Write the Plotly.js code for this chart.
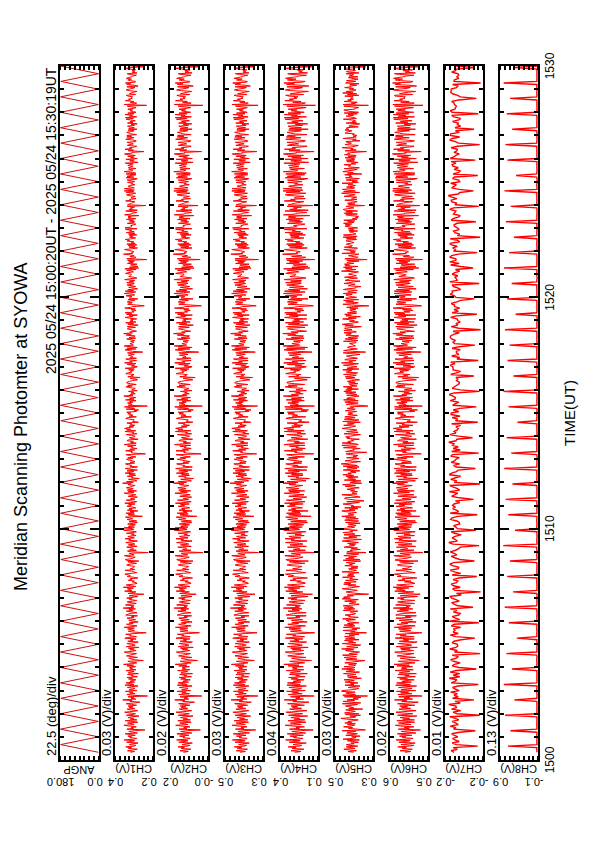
<!DOCTYPE html>
<html><head><meta charset="utf-8">
<script src="https://cdn.plot.ly/plotly-3.0.1.min.js"></script>
<style>
html,body{margin:0;padding:0;width:595px;height:842px;overflow:hidden;background:#fff;}
#chart{position:absolute;left:0;top:0;width:842px;height:595px;transform-origin:0 0;transform:translateY(842px) rotate(-90deg);}
</style></head><body><div id="chart"></div>
<script>
// ---- data ----
const channelNames = ['ANGP','CH1(V)','CH2(V)','CH3(V)','CH4(V)','CH5(V)','CH6(V)','CH7(V)','CH8(V)'];
const scaleLabels = ['22.5 (deg)/div','0.03 (V)/div','0.02 (V)/div','0.03 (V)/div','0.04 (V)/div','0.03 (V)/div','0.02 (V)/div','0.01 (V)/div','0.13 (V)/div'];
const topLabels = ['180.0','0.4','0.2','0.5','0.4','0.5','0.6','-0.2','0.9'];
const bottomLabels = ['0.0','0.2','-0.0','0.3','0.1','0.3','0.5','-0.2','-0.1'];
const axisMax = [180, 0.42, 0.155, 0.53, 0.42, 0.53, 0.63, -0.155, 0.93];
const axisMin = [0, 0.18, -0.005, 0.29, 0.10, 0.29, 0.47, -0.235, -0.11];
const startUT = '2025-05-24 15:00:20';
const angpStepSec = 20;   // scan turning points
const fastStepSec = 2;    // CH1-CH6
const slowStepSec = 4;    // CH7-CH8

const angp_deg = [3,177,2,178,3,177,4,176,2,178, 3,177,3,178,2,177,4,176,3,177, 2,178,3,177,3,176,4,178,2,177,
3,177,3,178,2,176,4,177,3,178, 2,177,3,176,3,178,4,177,2,177, 3,178,3,176,2,177,4,178,3,177,
2,176,3,178,3,177,4,177,2,178, 3,176,3,177,2,178,4,177,3,176, 2,178,3,177,3,177,4,176,2,178];

const ch1_mV = [322,297,341,308,279,336,315,352,301,288, 329,311,274,347,318,296,362,305,283,327, 314,339,292,321,356,278,309,333,298,231,
345,303,317,286,329,364,299,312,341,276, 308,355,282,324,301,338,317,269,348,313, 291,326,359,304,277,321,343,296,330,307,
337,284,315,349,298,263,326,312,371,289, 319,302,338,215,311,345,293,328,306,354, 282,331,307,294,342,318,275,357,300,323,
350,296,326,313,287,334,309,345,278,316, 305,341,272,336,320,299,351,288,327,310, 328,290,344,303,366,311,282,319,339,241,
297,318,333,279,312,347,325,301,284,343, 361,309,288,326,299,335,270,349,314,292, 316,345,301,273,339,306,322,287,358,327,
284,328,317,352,294,223,310,336,297,319, 340,298,363,311,281,324,347,305,330,274, 309,333,290,321,344,300,316,278,352,337,
325,281,313,348,307,332,291,368,302,318, 299,354,327,286,319,343,309,283,329,312, 346,306,276,331,295,238,338,314,288,359,
313,327,342,304,367,289,321,349,307,280, 287,311,298,336,312,326,275,302,343,323, 334,358,319,283,301,315,356,293,324,306,
302,296,330,346,324,284,311,339,270,349, 355,320,306,292,337,361,299,318,332,211, 318,341,285,327,303,309,346,281,312,336,
294,305,352,314,278,333,320,357,297,325, 339,287,316,299,348,306,285,324,365,301, 308,363,297,335,316,291,340,304,279,331,
283,321,344,309,327,354,247,313,338,296, 351,300,324,276,342,312,331,289,307,345, 317,334,293,358,305,283,319,349,294,322,
296,279,337,313,289,327,362,300,336,284, 342,319,305,348,322,310,293,338,317,372, 305,347,282,297,335,267,316,306,342,290,
331,292,356,320,301,344,279,327,355,313, 278,326,314,336,354,297,324,295,311,333, 348,309,339,288,318,329,351,228,303,319,
311,353,296,327,281,316,306,340,287,361, 327,286,321,305,345,338,274,318,329,300, 293,316,349,282,310,301,357,289,347,321,
359,337,302,331,295,322,313,345,272,308, 304,298,328,352,337,285,330,307,318,339, 320,346,284,299,271,349,296,324,360,216,
337,312,318,341,308,327,287,353,299,328, 289,325,364,306,326,292,319,301,335,280, 315,302,292,333,350,311,340,286,322,347,
344,328,311,277,299,324,263,339,305,317, 300,352,339,314,323,303,334,298,356,291, 279,317,296,343,288,359,311,327,284,332,
352,285,326,308,314,336,298,317,341,245, 310,333,357,289,345,280,325,362,304,313, 326,307,300,322,296,318,346,290,331,297,
293,348,318,365,311,327,284,305,319,342, 338,291,343,302,274,339,303,352,288,326, 307,321,283,330,356,308,332,279,347,315,
356,300,312,287,319,292,358,321,308,235, 285,340,327,311,343,324,296,338,276,330, 323,314,350,296,307,361,320,289,355,302,
339,277,306,334,290,313,344,311,298,346, 301,329,295,359,326,282,301,333,322,317, 318,353,338,304,315,346,288,358,271,328,
276,310,322,281,341,305,333,297,340,219, 346,296,287,326,299,320,366,309,316,301, 314,335,360,312,278,331,293,336,283,345,
292,318,301,343,327,355,312,290,328,308, 329,283,334,295,348,298,327,315,353,281, 357,322,313,321,302,288,342,306,295,330,
303,347,289,338,319,337,270,359,318,314, 284,309,352,279,332,311,322,296,343,226, 341,329,315,306,294,353,318,328,287,319,
312,292,336,347,312,289,349,302,361,298, 327,361,298,318,337,328,294,317,306,341, 295,316,343,290,280,349,302,344,319,287,
350,288,309,362,315,307,333,289,336,323, 307,339,326,305,355,274,316,327,298,351, 280,321,301,340,292,337,360,312,313,237,
336,302,357,315,328,296,283,342,329,304, 318,343,289,286,307,352,327,300,346,315, 345,284,320,331,346,315,299,338,281,333,
298,325,341,297,318,280,341,306,325,292, 323,350,304,354,283,329,310,357,300,339, 287,312,325,309,339,306,287,316,343,221,
362,296,283,323,301,354,322,335,311,318, 309,338,349,290,330,318,303,282,327,350, 331,307,294,345,274,300,346,321,354,293,
290,324,339,316,348,333,313,308,285,329, 343,281,312,296,312,290,325,351,319,242, 316,336,301,327,305,340,298,314,332,310];

const ch2_mV = [99,78,113,90,67,108,94,121,83,72, 104,88,61,118,96,79,127,86,70,101, 92,115,75,98,126,63,89,110,81,27,
117,84,97,71,105,131,80,93,114,66, 87,122,69,100,82,111,95,58,120,91, 74,103,129,85,64,99,116,80,107,88,
112,71,94,119,77,52,102,92,135,76, 96,82,113,21,89,118,73,105,87,125, 68,106,86,79,115,95,62,124,83,100,
121,77,101,93,70,110,89,117,65,97, 85,114,60,109,98,81,123,72,104,90, 103,73,118,84,133,92,66,96,112,39,
79,97,108,63,91,119,101,83,69,116, 128,90,72,103,80,111,57,120,94,75, 95,117,82,61,113,86,99,71,130,104,
70,106,96,124,78,31,90,112,80,98, 114,80,132,91,66,102,119,87,107,62, 89,110,74,100,118,82,95,64,125,113,
102,67,93,122,88,108,76,138,84,96, 81,127,105,71,97,116,90,69,106,92, 119,87,63,109,79,45,114,94,73,129,
93,104,117,86,136,71,99,121,88,67, 69,92,78,112,95,103,60,84,117,101, 110,131,99,68,83,94,127,75,102,87,
84,76,107,120,101,65,92,113,58,123, 126,98,86,74,111,133,80,97,108,16, 97,116,67,102,85,89,122,66,93,111,
76,88,127,94,62,109,98,130,79,104, 115,72,96,81,121,87,68,101,137,83, 88,134,79,110,95,73,116,86,63,107,
65,100,119,89,103,129,42,94,113,78, 125,83,101,62,117,92,106,72,88,120, 94,111,74,132,85,66,97,123,77,99,
77,64,114,93,70,104,134,82,111,68, 118,97,87,122,99,90,75,115,96,140, 86,121,65,78,110,56,94,87,119,73,
107,75,128,96,80,118,63,103,131,92, 61,101,93,112,127,76,100,70,89,108, 124,89,113,69,94,105,129,24,82,97,
91,130,77,103,66,95,87,114,68,136, 103,68,99,86,118,113,60,96,107,80, 72,95,124,64,90,81,132,67,122,101,
131,115,83,107,73,98,92,120,59,86, 85,78,105,128,112,65,109,88,97,117, 98,120,66,79,57,123,77,101,135,19,
116,92,96,117,87,104,68,127,80,106, 69,103,138,84,102,74,94,83,111,63, 95,82,75,110,126,91,117,70,99,121,
121,107,91,59,80,100,49,114,86,93, 82,129,114,97,104,84,111,76,133,71, 62,96,78,119,70,135,92,103,66,112,
127,67,102,88,95,115,79,96,118,34, 90,111,133,71,121,62,104,137,85,94, 105,86,80,100,77,97,124,72,108,79,
73,124,98,140,91,106,68,87,99,119, 114,74,119,83,57,116,85,128,70,103, 88,99,64,108,131,89,110,61,123,95,
133,81,93,70,97,75,136,101,90,23, 67,118,106,92,120,104,78,116,58,109, 101,93,128,79,88,138,99,71,130,84,
117,60,87,112,72,94,122,92,80,125, 82,108,76,137,103,64,83,113,102,97, 96,131,116,85,96,123,70,134,54,106,
59,91,101,65,119,86,111,78,118,28, 124,77,68,104,81,99,141,90,96,83, 93,113,135,94,62,110,75,115,66,122,
74,97,84,121,105,132,93,72,107,89, 108,66,112,77,126,80,105,96,131,63, 132,100,95,101,85,69,119,88,76,110,
84,123,71,117,98,115,55,137,97,94, 65,88,129,62,110,92,102,79,121,37, 119,106,97,87,76,130,98,107,69,99,
92,73,114,125,93,71,127,83,139,78, 103,136,79,98,115,106,74,96,86,118, 77,95,120,73,63,128,82,122,100,70,
128,69,90,139,97,88,112,71,114,102, 87,117,104,83,133,58,96,108,79,129, 61,99,82,118,74,116,137,92,94,22,
114,84,134,96,107,78,66,120,109,85, 98,121,70,67,88,131,104,81,125,96, 123,66,101,110,124,97,80,115,62,112,
79,105,118,77,99,63,119,87,106,73, 104,128,85,133,65,109,91,134,83,117, 68,92,107,89,117,87,68,97,121,17,
137,79,66,102,82,132,101,113,92,99, 89,116,126,71,111,98,84,64,106,127, 110,86,75,123,57,81,124,100,133,74,
71,103,117,95,127,112,94,88,67,108, 120,62,92,78,93,70,103,130,98,31, 95,114,83,105,86,119,77,93,111,90];

const ch3_mV = [436,401,459,419,388,452,425,471,408,394, 444,418,377,467,430,403,483,412,390,441, 426,457,397,433,478,375,415,448,405,336,
464,410,428,391,443,486,402,421,460,382, 414,472,386,438,407,455,427,368,467,423, 395,440,480,411,380,432,461,399,446,417,
453,387,424,469,402,364,441,419,492,392, 431,409,455,322,418,465,396,444,414,476, 384,447,413,398,462,428,379,477,405,437,
470,400,440,423,389,451,416,466,381,427, 411,461,374,454,432,404,473,391,442,420, 445,393,463,409,490,421,385,430,458,345,
401,429,449,381,420,467,437,406,388,462, 484,418,392,441,404,452,371,469,425,396, 427,466,407,376,456,413,434,390,481,439,
386,444,425,475,399,327,417,453,403,431, 459,402,488,420,383,437,467,412,446,374, 417,451,395,435,464,406,429,378,474,455,
438,380,424,468,414,448,395,496,411,428, 403,477,442,387,431,462,418,384,444,421, 468,413,373,450,397,341,456,426,390,480,
422,441,460,410,491,392,433,471,415,382, 388,420,401,454,423,440,376,409,465,436, 451,482,432,383,408,426,478,397,438,414,
409,399,447,466,440,386,420,457,371,470, 476,434,411,396,455,487,404,430,449,319, 430,460,385,443,412,419,468,381,424,453,
397,412,475,427,378,452,435,482,400,439, 457,389,428,404,469,415,383,440,490,406, 415,486,400,454,428,394,461,411,377,448,
383,436,465,418,443,479,348,426,458,399, 473,406,439,375,461,423,447,393,417,467, 428,450,396,485,413,382,432,470,398,435,
399,378,457,425,391,444,489,405,454,384, 462,431,410,471,437,419,394,458,427,499, 410,469,381,401,453,365,428,414,461,392,
447,395,480,434,406,465,376,442,478,424, 375,441,421,457,474,399,437,396,419,450, 472,416,459,389,430,446,473,330,408,432,
420,481,398,444,382,427,414,459,386,488, 440,385,432,411,467,455,372,431,447,403, 393,425,470,379,418,402,481,388,466,433,
487,456,405,448,396,436,423,467,367,412, 407,400,443,477,458,384,445,416,429,461, 433,468,378,402,366,472,399,438,484,324,
454,420,426,463,415,441,388,476,401,445, 391,438,490,413,442,393,430,405,453,379, 425,407,394,450,471,423,459,386,436,469,
466,445,417,373,404,435,356,460,412,427, 404,475,461,422,437,409,451,399,482,391, 378,430,399,465,388,485,420,444,384,449,
476,386,441,414,426,458,402,427,462,339, 418,453,484,392,468,376,440,489,410,423, 443,412,403,436,397,431,471,390,447,398,
396,469,429,494,419,444,383,413,430,463, 458,389,466,405,372,461,408,477,386,441, 413,434,381,447,482,417,452,377,470,426,
480,403,422,388,431,394,485,436,416,333, 387,462,440,418,465,438,397,459,373,446, 437,423,474,397,414,488,434,390,479,408,
459,373,412,452,391,425,467,421,400,471, 406,443,398,482,441,381,404,451,435,429, 424,478,458,410,424,468,387,481,366,442,
372,419,436,378,463,411,449,401,465,318, 467,398,385,440,398,432,493,417,425,406, 421,457,487,423,375,448,395,455,383,467,
392,427,406,464,437,479,424,393,441,414, 446,383,451,396,472,403,439,428,476,380, 483,436,425,430,409,386,462,410,398,447,
409,470,392,457,426,456,362,484,428,420, 381,415,477,376,449,420,433,399,464,331, 460,442,430,412,393,478,427,444,389,431,
419,392,454,472,421,388,470,405,487,401, 441,485,397,426,454,439,396,424,411,460, 398,428,462,390,380,473,406,463,430,387,
471,386,416,488,425,413,448,389,456,435, 412,458,440,408,478,371,425,443,400,474, 377,432,404,461,396,457,484,419,422,328,
452,405,479,424,440,399,382,461,445,409, 429,465,389,385,413,472,438,403,468,423, 463,381,431,446,469,426,401,456,378,452,
400,441,459,397,423,379,462,411,438,391, 435,474,409,478,384,445,416,480,404,457, 390,418,439,414,457,410,389,426,464,321,
486,396,383,437,405,477,433,452,418,425, 414,455,473,391,450,428,407,377,440,471, 445,411,395,466,370,402,466,432,481,393,
389,438,457,421,473,451,422,412,386,439, 464,379,416,399,417,392,437,472,427,342, 423,452,404,439,408,460,397,420,449,415];

const ch4_mV = [295,243,327,279,219,318,284,351,258,236, 310,268,199,344,290,250,372,261,226,306, 280,336,223,297,359,204,265,320,247,141,
340,257,286,214,308,377,242,275,333,201, 262,353,211,301,254,329,287,187,348,283, 229,305,370,266,193,291,339,238,315,273,
327,215,276,356,246,176,312,280,385,222, 287,252,331,132,270,349,233,316,264,364, 207,322,260,239,345,293,198,362,250,303,
357,244,309,277,217,325,271,347,209,288, 255,341,190,334,296,248,367,220,314,276, 316,224,352,259,388,281,212,294,338,155,
245,289,323,202,285,355,305,253,218,346, 376,272,221,317,243,330,183,358,282,232, 284,350,249,196,337,261,299,227,375,311,
213,313,286,366,235,128,269,332,240,292, 343,246,380,275,205,302,354,263,321,191, 266,324,230,299,361,251,287,199,368,339,
306,200,281,353,257,319,236,392,258,290, 248,365,318,222,292,344,267,209,326,278, 354,261,185,328,237,147,340,285,228,371,
277,311,349,252,383,214,296,357,270,208, 211,279,241,335,288,312,189,256,350,304, 333,374,293,203,264,283,369,234,313,268,
259,235,324,360,315,210,278,342,181,363, 369,298,255,226,330,379,247,289,325,124, 290,348,206,307,253,271,357,197,293,336,
227,258,373,282,192,327,300,378,244,317, 345,216,294,240,362,265,202,309,389,255, 263,381,233,338,291,221,352,260,188,330,
196,301,355,269,317,372,158,286,347,242, 365,254,320,183,350,288,322,231,276,358, 292,339,225,382,267,209,297,366,237,309,
237,195,346,284,218,314,384,255,343,212, 349,297,262,367,302,273,229,345,287,395, 270,360,201,246,331,171,285,262,354,226,
323,228,376,296,256,352,194,318,379,280, 188,315,268,343,371,238,306,234,273,337, 362,273,348,214,300,332,364,136,251,296,
279,384,231,326,207,286,266,340,211,386, 319,212,299,258,358,341,186,290,327,245, 233,283,363,204,276,244,383,216,357,305,
387,345,248,321,230,303,274,360,174,263, 253,236,312,370,346,203,318,271,291,353, 298,357,192,242,180,373,232,305,380,130,
336,266,282,354,261,321,215,368,239,324, 218,308,391,263,323,225,289,249,342,198, 285,247,228,337,377,276,351,213,301,361,
361,326,270,191,243,298,162,347,260,281, 244,372,344,287,304,256,333,240,385,219, 198,292,237,359,214,389,271,319,203,335,
374,220,317,264,283,342,245,293,352,150, 273,334,386,210,364,187,311,393,254,284, 320,262,250,306,226,295,369,217,324,235,
223,355,289,397,268,326,196,257,296,356, 346,209,366,248,185,349,254,374,221,315, 257,303,195,332,381,267,340,193,370,275,
380,245,277,218,294,230,388,308,266,139, 204,352,318,274,358,311,235,350,184,331, 302,278,375,233,259,391,297,208,382,252,
348,189,265,339,222,286,363,277,241,373, 242,330,239,385,316,201,248,337,305,289, 289,371,353,261,293,360,214,389,169,320,
185,283,308,199,365,257,341,229,362,127, 368,238,204,322,236,296,398,272,284,249, 278,347,382,269,190,338,233,351,217,364,
231,287,251,357,309,378,279,219,330,259, 333,206,340,228,375,247,319,291,383,194, 386,312,280,305,246,210,356,262,232,343,
249,369,224,350,288,348,170,390,292,286, 194,264,378,182,338,276,306,238,360,144, 352,321,298,260,220,384,290,331,207,299,
282,218,345,375,284,203,368,249,394,227, 329,393,235,294,347,316,227,297,271,355, 236,291,357,213,186,376,244,359,302,212,
371,199,275,392,281,268,334,215,344,308, 261,349,306,252,387,178,285,329,239,378, 183,320,243,354,222,349,390,282,286,133,
344,250,383,291,319,238,192,358,337,263, 299,361,216,205,267,371,314,244,366,291, 357,193,302,331,361,283,240,347,183,340,
240,327,352,229,292,187,359,266,320,226, 310,377,260,384,197,325,274,384,247,352, 216,284,326,276,351,254,200,293,363,121,
393,237,206,313,242,379,308,340,279,302, 268,344,372,221,335,290,250,181,327,375, 334,256,230,362,177,240,365,298,387,232,
208,319,358,285,373,337,279,262,197,318, 355,188,261,234,271,224,321,380,299,153, 286,340,249,317,255,350,228,274,335,266];

const ch5_mV = [412,448,395,437,474,404,426,459,386,441, 458,409,430,382,421,452,376,479,418,397, 425,371,462,414,388,455,436,399,485,338,
390,445,419,476,430,407,451,401,468,424, 449,411,383,457,493,417,398,436,369,465, 379,470,432,402,428,462,355,443,413,437,
464,421,387,483,368,434,478,406,454,383, 416,366,471,325,481,401,440,461,403,489, 486,429,394,380,447,424,372,467,410,431,
385,466,433,408,473,416,364,446,391,453, 439,398,476,422,375,460,427,404,487,417, 404,473,415,399,444,393,468,425,377,341,
461,392,450,472,395,431,482,389,440,409, 375,436,463,411,488,423,385,457,420,368, 431,484,399,445,415,470,378,464,403,429,
469,407,441,378,465,331,433,402,480,392, 424,374,477,430,404,472,412,451,379,445, 443,459,401,482,426,383,444,433,466,407,
400,426,434,386,478,447,405,473,414,438, 478,413,377,441,427,397,469,422,383,484, 433,476,458,413,452,318,391,431,460,419,
389,428,484,437,409,376,446,398,475,429, 471,396,413,463,384,436,420,482,406,451, 411,447,425,379,486,419,394,437,444,386,
428,385,468,420,439,403,459,416,368,478, 373,463,409,444,394,474,430,381,457,334, 455,419,435,370,428,388,472,445,407,439,
399,450,382,423,484,431,363,453,476,393, 442,369,473,404,425,480,417,436,389,467, 488,432,406,451,397,412,446,371,464,402,
381,469,437,383,462,399,487,427,411,447, 427,394,461,487,403,440,386,469,366,428, 414,441,479,414,376,456,347,396,438,470,
467,371,404,435,486,390,423,418,388,432, 406,454,430,377,421,465,401,482,426,362, 435,417,367,471,399,427,450,384,461,413,
480,427,447,397,432,373,478,428,392,455, 378,479,389,432,491,438,411,369,467,425, 421,378,457,393,416,386,431,460,406,329,
463,437,408,418,371,477,395,433,487,383, 397,485,428,449,413,428,376,455,437,463, 431,402,369,473,426,384,457,412,391,435,
485,446,423,400,475,436,408,452,370,481, 409,379,471,437,403,468,426,389,449,419, 447,424,393,465,431,402,453,413,433,322,
371,460,439,384,468,442,383,476,402,456, 439,415,378,456,392,415,463,398,474,427, 462,382,454,422,477,391,429,438,385,444,
402,451,426,375,406,461,404,465,420,396, 476,409,387,459,440,424,481,379,455,430, 391,433,477,416,382,489,418,442,397,468,
453,388,418,442,458,406,372,434,478,337, 417,475,443,389,429,452,445,401,414,421, 438,401,396,476,385,419,466,387,448,404,
380,462,433,427,473,395,410,474,423,457, 470,414,364,468,414,484,439,408,382,440, 408,439,482,396,445,370,461,427,469,395,
451,393,422,436,399,437,385,456,412,316, 426,480,405,383,462,413,476,381,441,463, 394,420,449,461,421,478,394,450,431,389,
477,456,400,405,367,446,428,403,472,442, 413,372,466,448,437,388,470,425,395,414, 444,434,412,381,489,432,399,464,422,476,
386,466,438,470,410,455,441,378,456,327, 468,398,384,416,445,407,380,486,404,433, 400,443,474,392,387,471,425,420,438,459,
434,411,427,460,456,394,458,397,479,390, 459,476,398,410,418,439,387,443,413,446, 387,427,465,437,466,425,476,411,450,405,
474,392,420,384,402,381,431,462,389,471, 420,461,388,469,478,452,410,436,461,343, 446,404,451,419,390,417,468,391,424,420,
393,473,436,403,442,488,375,476,401,452, 483,423,406,457,417,401,448,416,486,383, 422,388,459,426,376,464,421,440,428,469,
361,450,415,480,452,411,389,472,376,437, 445,431,472,399,427,384,455,408,459,404, 410,467,399,447,396,470,437,450,410,331,
466,396,431,415,484,429,403,383,467,441, 426,452,461,372,420,396,479,432,396,416, 392,419,408,466,457,442,422,467,443,458,
456,383,442,435,394,374,460,394,420,401, 418,477,395,409,435,459,412,447,389,472, 381,436,453,474,405,406,381,426,474,319,
479,401,427,390,473,427,449,413,432,426, 415,468,380,452,393,481,416,459,407,397, 440,413,469,428,437,393,437,379,463,442,
398,457,411,384,424,446,385,441,419,412, 461,379,446,458,401,419,464,472,394,335, 429,443,417,406,448,432,406,423,447,461];

const ch6_mV = [567,542,588,556,536,579,561,597,548,530, 584,551,524,593,568,545,604,557,533,578, 563,590,538,572,599,521,554,583,546,502,
595,549,570,529,586,607,541,565,594,527, 553,601,527,577,547,588,562,517,598,569, 534,579,605,558,520,574,592,543,581,556,
589,526,566,598,544,511,581,560,611,535, 571,547,593,495,559,597,538,585,552,603, 522,584,556,537,594,566,518,606,544,576,
602,540,580,563,528,589,557,599,523,568, 549,596,519,591,570,546,609,532,584,560, 580,535,601,548,613,562,525,571,595,507,
541,566,587,523,563,600,576,550,529,598, 610,558,531,583,545,586,515,603,565,539, 564,597,546,516,591,552,574,528,608,577,
528,587,562,604,537,496,558,589,543,567, 594,539,612,571,524,578,601,555,583,520, 555,592,535,576,605,541,565,519,606,593,
577,521,569,600,552,589,534,616,549,562, 543,606,585,527,573,598,560,526,585,571, 599,557,514,587,536,503,595,566,530,610,
566,582,603,551,617,532,573,602,556,525, 532,569,541,596,567,579,517,548,600,583, 591,611,574,524,550,564,605,539,578,554,
551,538,590,599,582,531,566,590,512,608, 607,576,553,540,593,614,545,570,588,492, 570,601,529,586,555,560,603,522,569,595,
537,553,609,565,519,593,578,611,542,584, 596,527,571,545,604,555,524,581,614,546, 558,612,540,594,574,537,600,551,518,589,
523,578,598,559,584,609,505,572,599,540, 606,545,583,520,601,568,587,535,562,604, 568,592,537,612,556,525,577,606,541,579,
541,518,597,573,529,588,615,548,596,528, 600,574,555,603,580,557,536,598,570,619, 556,604,523,544,596,513,573,559,603,536,
585,537,611,578,546,605,521,585,612,566, 519,586,567,597,609,539,581,541,563,592, 612,560,599,532,574,587,604,498,551,577,
562,609,544,583,524,571,563,596,530,615, 581,528,576,554,598,592,519,573,585,548, 539,568,607,525,561,547,613,533,603,580,
616,589,550,592,533,579,569,604,515,559, 552,544,581,608,593,528,586,563,575,598, 574,599,526,548,514,610,538,582,611,494,
593,563,568,601,558,584,533,607,546,586, 535,582,616,559,580,537,572,549,594,523, 569,551,538,587,606,567,600,531,582,605,
604,587,562,519,547,578,509,597,555,573, 546,611,595,572,588,552,591,544,614,533, 526,575,543,605,530,617,566,585,529,594,
609,534,572,556,566,593,540,571,603,500, 561,594,614,535,602,520,584,615,556,570, 583,557,549,579,538,574,607,529,590,543,
531,603,577,618,565,588,527,560,572,601, 598,531,606,550,516,600,551,611,528,586, 555,580,522,589,612,563,595,521,608,568,
613,546,571,533,577,540,617,583,559,497, 529,605,586,564,601,582,539,600,518,590, 576,566,609,541,562,613,579,538,612,547,
603,520,558,596,532,569,604,565,545,607, 549,590,540,614,589,527,550,593,580,562, 572,611,601,557,568,606,531,614,509,588,
521,571,583,526,605,556,592,546,601,493, 607,541,530,574,548,581,619,561,566,552, 560,596,613,567,522,594,540,597,531,609,
538,575,552,602,584,616,570,534,587,557, 595,528,598,539,611,546,582,575,613,524, 617,583,566,580,555,526,603,552,539,596,
547,607,532,597,573,599,510,617,574,566, 525,563,612,520,597,568,585,544,604,504, 601,594,579,562,535,615,571,586,528,581,
567,536,596,611,576,524,610,553,619,539, 590,618,548,571,596,587,538,568,554,603, 542,577,604,530,515,608,555,605,577,527,
612,525,565,617,579,566,590,531,599,584, 556,601,587,552,614,512,575,593,545,611, 519,581,553,599,543,603,620,562,569,499,
598,548,615,573,586,545,529,602,593,560, 579,604,537,527,564,612,589,549,607,575, 606,524,575,591,610,580,547,599,523,598,
545,593,599,543,571,521,606,555,586,537, 582,614,554,616,527,595,563,617,551,604, 530,570,597,565,604,559,531,574,611,491,
618,540,528,585,549,613,577,589,567,572, 565,609,611,534,590,576,553,522,593,616, 592,558,544,606,518,550,608,586,619,541,
533,587,608,577,615,599,572,564,529,590, 611,523,566,549,575,535,596,614,563,506, 574,600,558,588,553,607,549,578,597,569];

const ch7_mV = [-174,-168,-181,-172,-224,-179,-170,-185,-176,-171, -182,-175,-169,-186,-219,-173,-178,-166,-183,-177, -170,-184,-177,-165,-228,-180,-172,-188,-169,-179,
-178,-163,-187,-176,-216,-171,-183,-174,-181,-167, -185,-177,-171,-182,-225,-168,-176,-180,-164,-186, -172,-186,-166,-178,-221,-184,-170,-175,-187,-173,
-167,-179,-183,-170,-229,-175,-181,-165,-178,-182, -181,-170,-174,-189,-218,-178,-166,-183,-172,-176, -173,-188,-168,-175,-226,-164,-186,-177,-170,-184,
-187,-173,-180,-166,-214,-182,-174,-169,-185,-178, -169,-165,-189,-179,-230,-176,-171,-187,-173,-168, -179,-182,-172,-184,-222,-170,-188,-175,-166,-183,
-184,-171,-165,-173,-217,-186,-177,-168,-180,-174, -166,-177,-184,-187,-227,-172,-163,-181,-176,-170, -176,-189,-175,-168,-220,-181,-178,-173,-186,-185,
-180,-167,-170,-182,-223,-166,-184,-179,-171,-177, -171,-174,-186,-177,-215,-185,-169,-176,-182,-164, -186,-181,-173,-165,-229,-174,-180,-167,-177,-188,
-164,-169,-179,-183,-219,-179,-173,-186,-168,-175, -178,-185,-167,-171,-226,-169,-187,-172,-183,-171, -174,-163,-178,-180,-213,-183,-165,-178,-174,-181,
-183,-178,-188,-169,-224,-177,-182,-170,-187,-168, -168,-184,-172,-186,-221,-171,-176,-184,-166,-176, -177,-172,-164,-174,-228,-187,-170,-175,-180,-185,
-185,-179,-182,-178,-216,-167,-179,-188,-172,-172, -171,-166,-176,-167,-225,-180,-186,-169,-184,-179, -179,-187,-170,-185,-218,-175,-172,-177,-169,-166,
-167,-173,-185,-172,-230,-184,-168,-182,-178,-187, -182,-180,-167,-179,-222,-170,-183,-174,-186,-175, -175,-168,-180,-188,-217,-178,-175,-166,-171,-170,
-188,-183,-173,-170,-227,-165,-181,-179,-176,-182, -170,-176,-186,-177,-214,-188,-167,-185,-165,-178, -178,-165,-169,-183,-223,-173,-178,-171,-181,-169,
-165,-186,-181,-166,-229,-181,-186,-176,-173,-185, -181,-175,-174,-180,-220,-168,-172,-183,-187,-173, -176,-178,-165,-173,-226,-176,-180,-169,-168,-180,
-169,-162,-183,-186,-215,-185,-169,-174,-179,-167, -186,-184,-171,-175,-224,-172,-184,-187,-174,-183, -172,-170,-178,-168,-219,-166,-173,-178,-185,-174,
-180,-181,-168,-181,-228,-183,-177,-165,-170,-186, -166,-167,-185,-177,-216,-176,-188,-181,-183,-171, -184,-188,-174,-169,-225,-170,-166,-176,-177,-179,
-175,-174,-169,-184,-221,-187,-182,-171,-167,-168, -168,-179,-182,-171,-230,-174,-175,-184,-180,-184, -182,-169,-177,-179,-218,-179,-170,-173,-176,-176];

const ch8_mV = [-78,-82,-75,-80,712,-84,-79,-77,-81,-83, -81,-76,-83,-79,645,-78,-82,-80,-75,-84, -77,-84,-79,-82,790,-76,-81,-83,-78,-80,
-83,-78,-80,-76,538,-81,-79,-84,-82,-77, -79,-75,-82,-84,826,-78,-83,-77,-80,-81, -80,-83,-77,-81,604,-84,-76,-79,-83,-78,
-76,-79,-84,-78,755,-77,-80,-82,-79,-83, -84,-81,-78,-83,470,-80,-82,-76,-84,-79, -78,-77,-81,-80,688,-79,-78,-83,-77,-82,
-82,-84,-76,-79,801,-75,-83,-80,-81,-78, -79,-80,-83,-77,572,-82,-77,-84,-80,-81, -77,-76,-79,-84,733,-81,-80,-78,-83,-76,
-81,-83,-82,-78,659,-78,-84,-77,-79,-80, -80,-78,-75,-81,842,-83,-79,-82,-76,-84, -84,-81,-80,-83,517,-77,-76,-80,-82,-79,
-76,-79,-84,-80,704,-80,-81,-78,-83,-77, -83,-77,-78,-82,776,-84,-79,-83,-80,-81, -79,-82,-81,-76,590,-76,-82,-77,-78,-84,
-78,-80,-77,-84,813,-79,-78,-81,-82,-80, -82,-84,-83,-79,623,-81,-80,-76,-79,-78, -80,-76,-79,-77,748,-83,-84,-82,-81,-83,
-77,-81,-76,-83,451,-78,-77,-79,-84,-76, -84,-79,-82,-80,697,-80,-81,-83,-77,-82, -81,-83,-80,-78,834,-82,-78,-77,-80,-79,
-76,-78,-84,-81,562,-77,-83,-80,-83,-81, -83,-80,-78,-76,721,-84,-76,-81,-79,-77, -79,-77,-81,-84,668,-79,-82,-78,-82,-80,
-80,-82,-77,-79,795,-81,-80,-84,-76,-83, -78,-84,-83,-82,503,-76,-79,-80,-81,-78, -82,-79,-80,-77,739,-83,-84,-77,-78,-81,
-77,-81,-76,-83,610,-78,-77,-82,-84,-79, -84,-76,-82,-80,820,-80,-81,-79,-77,-83, -79,-83,-79,-78,681,-84,-78,-83,-80,-76,
-81,-78,-84,-81,547,-77,-83,-76,-82,-80, -76,-80,-78,-84,767,-81,-80,-81,-79,-82, -83,-82,-81,-79,636,-79,-76,-78,-83,-77,
-80,-77,-77,-82,808,-82,-82,-80,-76,-84, -78,-84,-83,-76,489,-78,-79,-84,-81,-79, -82,-79,-80,-83,726,-83,-84,-77,-80,-81,
-77,-81,-76,-80,781,-76,-77,-81,-84,-78, -84,-76,-82,-78,598,-80,-81,-79,-77,-83, -79,-83,-79,-81,744,-84,-78,-83,-82,-80,
-81,-78,-84,-77,655,-77,-83,-76,-79,-82, -76,-80,-78,-83,829,-81,-80,-82,-83,-77, -83,-82,-81,-79,531,-79,-76,-78,-80,-84];

// ---- build ----
const W = 842, H = 595;
const plotLeft = 82, plotRight = 776;
const panelTop = [60,115,170,225,280,335,390,445,500];
const panelH = 38;
const font = '"Liberation Sans", Arial, Helvetica, sans-serif';

const t0 = Date.parse(startUT.replace(' ', 'T') + 'Z');
const timesOf = (arr, step) => arr.map((_, i) => t0 + i * step * 1000);
const toV = a => a.map(v => v / 1000);
const series = [
  {y: angp_deg, t: timesOf(angp_deg, angpStepSec), w: 1, c: '#cc1111'},
  ...[ch1_mV, ch2_mV, ch3_mV, ch4_mV, ch5_mV, ch6_mV].map(a => ({y: toV(a), t: timesOf(a, fastStepSec), w: 1, c: '#ff0000'})),
  ...[ch7_mV, ch8_mV].map(a => ({y: toV(a), t: timesOf(a, slowStepSec), w: 1.4, c: '#ff0000'}))
];

const data = [];
const layout = {
  width: W, height: H, margin: {l: 0, r: 0, t: 0, b: 0},
  paper_bgcolor: '#fff', plot_bgcolor: '#fff', showlegend: false,
  font: {family: font, color: '#000'},
  annotations: []
};

series.forEach((s, i) => {
  const k = i + 1;
  const xa = k === 1 ? 'x' : 'x' + k;
  const ya = k === 1 ? 'y' : 'y' + k;
  data.push({x: s.t, y: s.y, xaxis: xa, yaxis: ya, type: 'scatter', mode: 'lines',
    line: {color: s.c, width: s.w, simplify: false}, hoverinfo: 'skip'});
  const top = panelTop[i];
  const bottom = top + (i === 0 ? 39 : panelH);
  const isLast = i === series.length - 1;
  layout['xaxis' + (k === 1 ? '' : k)] = {
    domain: [plotLeft / W, plotRight / W], anchor: ya, type: 'date',
    range: ['2025-05-24 15:00:00', '2025-05-24 15:30:00'],
    showline: true, linewidth: 2, linecolor: '#000', mirror: 'ticks',
    showgrid: false, zeroline: false,
    tickmode: 'linear', tick0: '2025-05-24 15:00:00', dtick: 600000,
    ticks: 'inside', ticklen: 9, tickwidth: 2, tickcolor: '#000',
    minor: {dtick: 60000, tick0: '2025-05-24 15:00:00', ticks: 'inside', ticklen: 4, tickwidth: 2, tickcolor: '#000', showgrid: false},
    tickformat: '%H%M', showticklabels: isLast,
    tickfont: {size: 12, family: font},
    title: isLast ? {text: 'TIME(UT)', font: {size: 15, family: font}, standoff: 8} : {text: ''}
  };
  const lo = axisMin[i], hi = axisMax[i];
  const inset = 0.06 * (hi - lo);
  layout['yaxis' + (k === 1 ? '' : k)] = {
    domain: [1 - bottom / H, 1 - top / H], anchor: xa,
    range: [lo, hi], showline: true, linewidth: 2, linecolor: '#000', mirror: 'ticks',
    showgrid: false, zeroline: false,
    tickmode: 'array', tickvals: [lo + inset, hi - inset], ticktext: [bottomLabels[i], topLabels[i]],
    ticks: '', tickangle: -90, ticklabelstandoff: 12,
    tickfont: {size: 11, family: font},
    minor: {tickmode: 'linear', tick0: lo, dtick: (hi - lo) / 8, ticks: 'inside', ticklen: 4, tickwidth: 2, tickcolor: '#000', showgrid: false}
  };
  layout.annotations.push({
    text: channelNames[i], xref: 'paper', x: 73 / W, yref: ya + ' domain', y: 0.5,
    textangle: -90, showarrow: false, font: {size: 11, family: font}, xanchor: 'center', yanchor: 'middle'
  });
  layout.annotations.push({
    text: scaleLabels[i], xref: 'paper', x: 85 / W, yref: ya + ' domain', y: 1,
    xanchor: 'left', yanchor: 'bottom', showarrow: false, font: {size: 13, family: font}, borderpad: 0
  });
});

layout.annotations.push({
  text: '2025 05/24 15:00:20UT - 2025 05/24 15:30:19UT', xref: 'paper', x: plotRight / W,
  yref: 'y domain', y: 1, xanchor: 'right', yanchor: 'bottom', showarrow: false,
  font: {size: 14, family: font}, borderpad: 0
});
layout.annotations.push({
  text: 'Meridian Scanning Photomter at SYOWA', xref: 'paper', x: 415 / W,
  yref: 'paper', y: 1 - 21 / H, xanchor: 'center', yanchor: 'middle', showarrow: false,
  font: {size: 18, family: font}
});

Plotly.newPlot('chart', data, layout, {staticPlot: true, displayModeBar: false});
</script></body></html>
